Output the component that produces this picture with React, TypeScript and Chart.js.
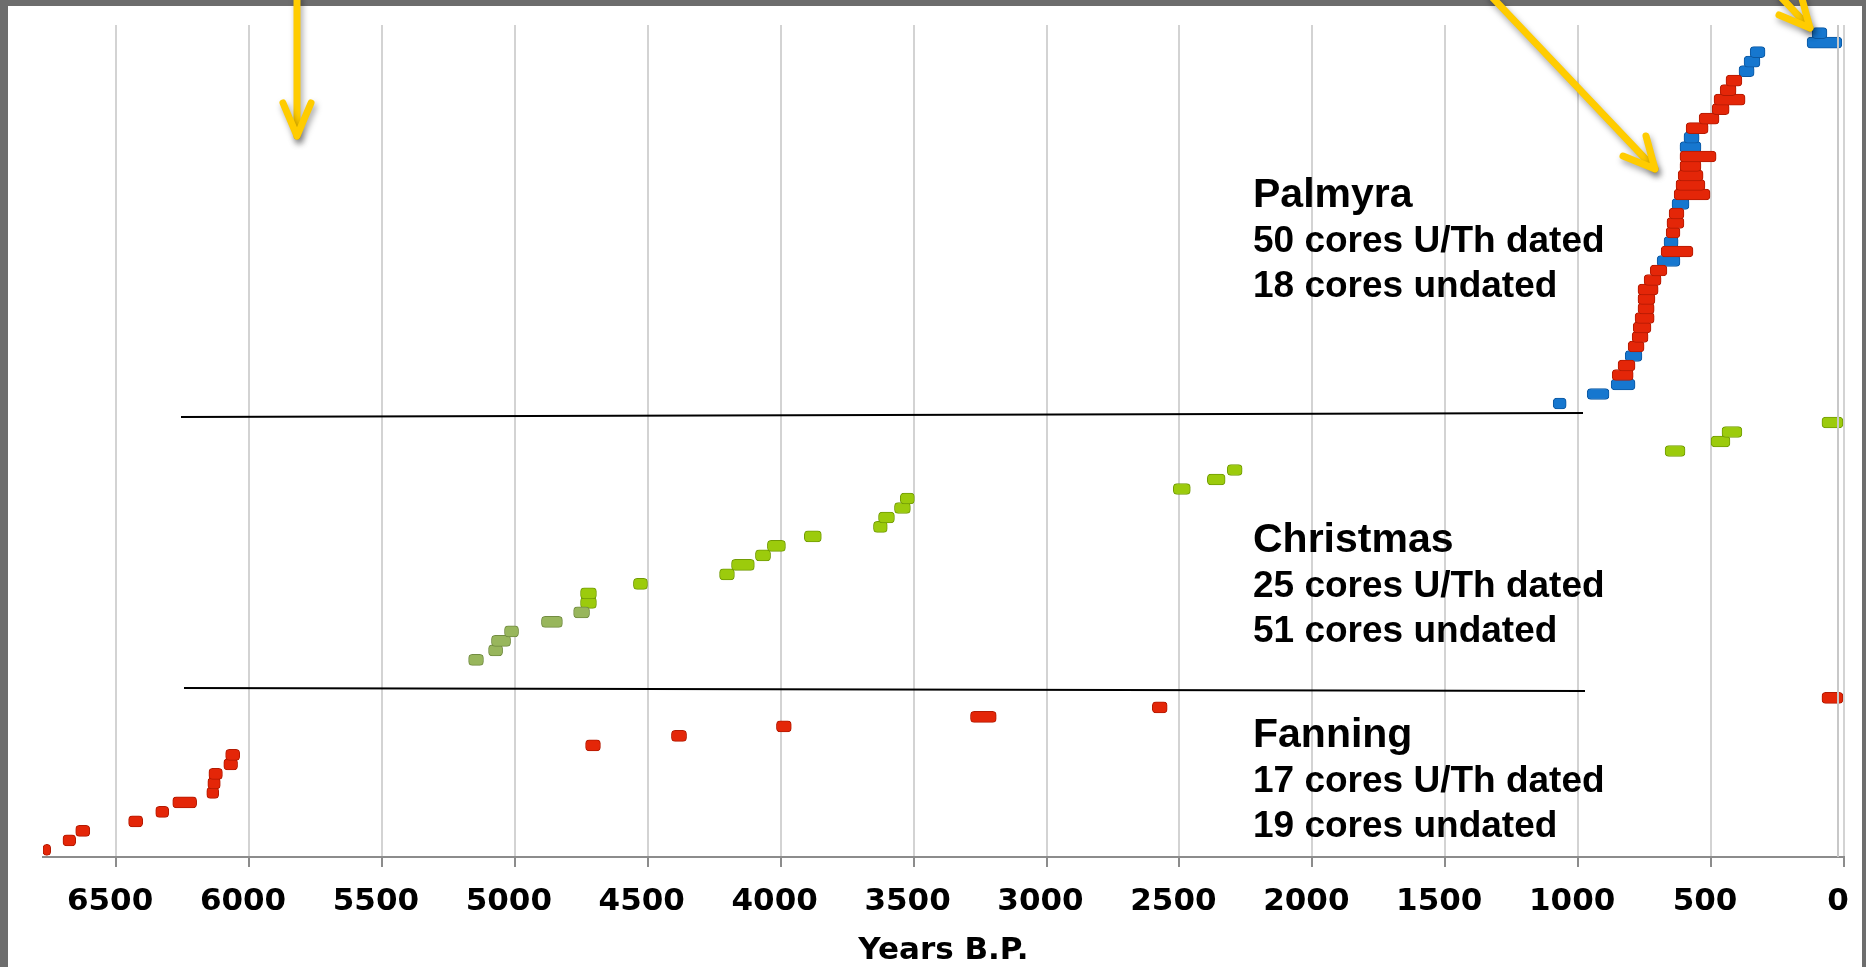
import React, { useEffect, useRef } from "react";
import { Chart, registerables } from "chart.js";

Chart.register(...registerables);

// ---------- DATA (years B.P.; row = core index counted from the bottom) ----------
const xTickValues = [0, 500, 1000, 1500, 2000, 2500, 3000, 3500, 4000, 4500, 5000, 5500, 6000, 6500];
const xAxisMax = 6775;
const xAxisTitle = "Years B.P.";

// Fanning (17 dated cores)
const fanningRows = [1, 2, 3, 4, 5, 6, 7, 8, 9, 10, 11, 12, 13, 14, 15, 16, 17];
const fanningOld = [6775, 6700, 6652, 6453, 6351, 6287, 6159, 6155, 6151, 6095, 6088, 4734, 4411, 4016, 3286, 2602, 83];
const fanningYoung = [6746, 6652, 6599, 6400, 6302, 6197, 6114, 6108, 6100, 6043, 6035, 4678, 4354, 3960, 3189, 2546, 4];

// Christmas (25 dated cores) – tone: "o" = olive, "g" = green
const christmasRows = [21, 22, 23, 24, 25, 26, 27, 28, 29, 30, 31, 32, 33, 34, 35, 36, 37, 38, 39, 40, 41, 43, 44, 45, 46];
const christmasOld = [5174, 5099, 5088, 5039, 4900, 4779, 4753, 4753, 4554, 4230, 4185, 4095, 4050, 3911, 3651, 3632, 3572, 3550, 2523, 2395, 2320, 673, 500, 459, 83];
const christmasYoung = [5118, 5046, 5016, 4986, 4821, 4719, 4693, 4693, 4501, 4174, 4099, 4038, 3982, 3847, 3599, 3572, 3512, 3497, 2459, 2328, 2264, 598, 429, 384, 4];
const christmasTone = ["o", "o", "o", "o", "o", "o", "g", "g", "g", "g", "g", "g", "g", "g", "g", "g", "g", "g", "g", "g", "g", "g", "g", "g", "g"];

// Palmyra – type: "B" = blue, "R" = red
const palmyraRows = [48, 49, 50, 51, 52, 53, 54, 55, 56, 57, 58, 59, 60, 61, 62, 63, 64, 65, 66, 67, 68, 69, 70, 71, 72, 73, 74, 75, 76, 77, 78, 79, 80, 81, 82, 83, 84, 85, 86, 87];
const palmyraOld = [1094, 966, 876, 872, 850, 823, 812, 797, 793, 786, 775, 775, 775, 752, 729, 703, 688, 677, 669, 666, 658, 647, 639, 632, 624, 617, 617, 617, 602, 594, 545, 496, 489, 466, 444, 395, 376, 353, 139, 120];
const palmyraYoung = [1045, 884, 786, 793, 786, 760, 752, 737, 726, 714, 714, 711, 699, 688, 666, 617, 568, 624, 617, 602, 602, 583, 504, 523, 530, 538, 481, 538, 545, 511, 470, 432, 372, 406, 384, 338, 316, 297, 8, 64];
const palmyraType = ["B", "B", "B", "R", "R", "B", "R", "R", "R", "R", "R", "R", "R", "R", "R", "B", "R", "B", "R", "R", "R", "B", "R", "R", "R", "R", "R", "B", "B", "R", "R", "R", "R", "R", "R", "B", "B", "B", "B", "B"];

// Annotation texts
const islandNames = ["Palmyra", "Christmas", "Fanning"];
const datedLines = ["50 cores U/Th dated", "25 cores U/Th dated", "17 cores U/Th dated"];
const undatedLines = ["18 cores undated", "51 cores undated", "19 cores undated"];

// ---------- helpers ----------
function pts(rows: number[], olds: number[], youngs: number[], keep?: (i: number) => boolean) {
  const out: { x: [number, number]; y: number }[] = [];
  rows.forEach((r, i) => {
    if (!keep || keep(i)) out.push({ x: [olds[i], youngs[i]], y: r });
  });
  return out;
}

const RED = "#e42608";
const RED_EDGE = "#b31a02";
const BLUE = "#1677cf";
const BLUE_EDGE = "#0c58a2";
const GREEN = "#9ccb0c";
const GREEN_EDGE = "#729c05";
const OLIVE = "#98b65c";
const OLIVE_EDGE = "#728c42";

function barStyle(fill: string, edge: string) {
  return {
    backgroundColor: fill,
    borderColor: edge,
    borderWidth: 1,
    borderSkipped: false as const,
    borderRadius: 4,
    barThickness: 11,
    grouped: false,
  };
}

const overlayPlugin = {
  id: "overlay",
  beforeDraw(chart: any) {
    const ctx = chart.ctx;
    ctx.save();
    ctx.fillStyle = "#ffffff";
    ctx.fillRect(0, 0, chart.width, chart.height);
    ctx.restore();
  },
  afterDraw(chart: any) {
    const ctx: CanvasRenderingContext2D = chart.ctx;
    const area = chart.chartArea;
    ctx.save();
    // back wall line of the plot box at the right edge
    ctx.strokeStyle = "#c8c8c8";
    ctx.lineWidth = 2;
    ctx.beginPath();
    ctx.moveTo(area.right - 6, area.top);
    ctx.lineTo(area.right - 6, area.bottom);
    ctx.stroke();

    // separator lines
    ctx.strokeStyle = "#000";
    ctx.lineWidth = 2;
    ctx.beginPath();
    ctx.moveTo(181, 417);
    ctx.lineTo(1583, 413);
    ctx.moveTo(184, 688);
    ctx.lineTo(1585, 691);
    ctx.stroke();

    // annotation blocks
    const baseY = [207, 552, 747];
    ctx.fillStyle = "#000";
    ctx.textAlign = "left";
    ctx.textBaseline = "alphabetic";
    for (let i = 0; i < 3; i++) {
      ctx.font = 'bold 41px "Liberation Sans", Arial, sans-serif';
      ctx.fillText(islandNames[i], 1253, baseY[i]);
      ctx.font = 'bold 37px "Liberation Sans", Arial, sans-serif';
      ctx.fillText(datedLines[i], 1253, baseY[i] + 45);
      ctx.fillText(undatedLines[i], 1253, baseY[i] + 90);
    }

    // grey slide frame
    ctx.fillStyle = "#6d6d6d";
    ctx.fillRect(0, 0, chart.width, 6);
    ctx.fillRect(0, 0, 8, chart.height);
    ctx.fillRect(chart.width - 4, 0, 4, chart.height);

    // yellow arrows
    ctx.strokeStyle = "#ffcc00";
    ctx.lineWidth = 7;
    ctx.lineCap = "round";
    ctx.lineJoin = "round";
    ctx.shadowColor = "rgba(0,0,0,0.35)";
    ctx.shadowBlur = 6;
    ctx.shadowOffsetX = 2;
    ctx.shadowOffsetY = 4;
    const arrows = [
      { from: [297, -5], tip: [297, 136], a: [283, 103], b: [311, 103] },
      { from: [1490, -5], tip: [1655, 169], a: [1623, 156], b: [1646, 136] },
      { from: [1779, -5], tip: [1810, 28], a: [1779, 15], b: [1801, -5] },
    ];
    for (const ar of arrows) {
      ctx.beginPath();
      ctx.moveTo(ar.from[0], ar.from[1]);
      ctx.lineTo(ar.tip[0], ar.tip[1]);
      ctx.stroke();
      ctx.beginPath();
      ctx.moveTo(ar.a[0], ar.a[1]);
      ctx.lineTo(ar.tip[0], ar.tip[1]);
      ctx.lineTo(ar.b[0], ar.b[1]);
      ctx.stroke();
    }
    ctx.restore();
  },
};

export default function App() {
  const ref = useRef<HTMLCanvasElement | null>(null);

  useEffect(() => {
    if (!ref.current) return;
    const tickFont = { family: "'DejaVu Sans', sans-serif", weight: "bold" as const, size: 31 };
    const chart = new Chart(ref.current, {
      type: "bar",
      data: {
        datasets: [
          { label: "Fanning", data: pts(fanningRows, fanningOld, fanningYoung), ...barStyle(RED, RED_EDGE) },
          {
            label: "Christmas (olive)",
            data: pts(christmasRows, christmasOld, christmasYoung, (i) => christmasTone[i] === "o"),
            ...barStyle(OLIVE, OLIVE_EDGE),
          },
          {
            label: "Christmas",
            data: pts(christmasRows, christmasOld, christmasYoung, (i) => christmasTone[i] === "g"),
            ...barStyle(GREEN, GREEN_EDGE),
          },
          {
            label: "Palmyra (red)",
            data: pts(palmyraRows, palmyraOld, palmyraYoung, (i) => palmyraType[i] === "R"),
            ...barStyle(RED, RED_EDGE),
          },
          {
            label: "Palmyra (blue)",
            data: pts(palmyraRows, palmyraOld, palmyraYoung, (i) => palmyraType[i] === "B"),
            ...barStyle(BLUE, BLUE_EDGE),
          },
        ] as any,
      },
      options: {
        indexAxis: "y",
        animation: false,
        responsive: false,
        layout: { padding: { left: 43, right: 22, top: 25, bottom: 0 } },
        plugins: { legend: { display: false }, tooltip: { enabled: false }, title: { display: false } },
        scales: {
          x: {
            type: "linear",
            reverse: true,
            min: 0,
            max: xAxisMax,
            afterBuildTicks: (scale: any) => {
              scale.ticks = xTickValues.map((v) => ({ value: v }));
            },
            ticks: {
              autoSkip: false,
              maxRotation: 0,
              padding: 16.4,
              labelOffset: -6,
              color: "#000",
              font: tickFont,
              callback: (v: any) => String(v),
            },
            grid: {
              color: "#d3d3d3",
              lineWidth: 2,
              tickLength: 10,
              tickColor: "#8c8c8c",
              tickWidth: 2,
            },
            border: { display: true, color: "#8c8c8c", width: 2 },
            title: {
              display: true,
              text: xAxisTitle,
              color: "#000",
              font: tickFont,
              padding: { top: -4.6, bottom: -2.6 },
            },
          },
          y: {
            type: "linear",
            offset: false,
            min: 0.25,
            max: 87.85,
            display: false,
          },
        },
      } as any,
      plugins: [overlayPlugin],
    });
    return () => chart.destroy();
  }, []);

  return (
    <div style={{ position: "absolute", left: 0, top: 0, width: 1866, height: 967, overflow: "hidden", background: "#fff" }}>
      <canvas ref={ref} width={1866} height={967} style={{ display: "block" }} />
    </div>
  );
}
